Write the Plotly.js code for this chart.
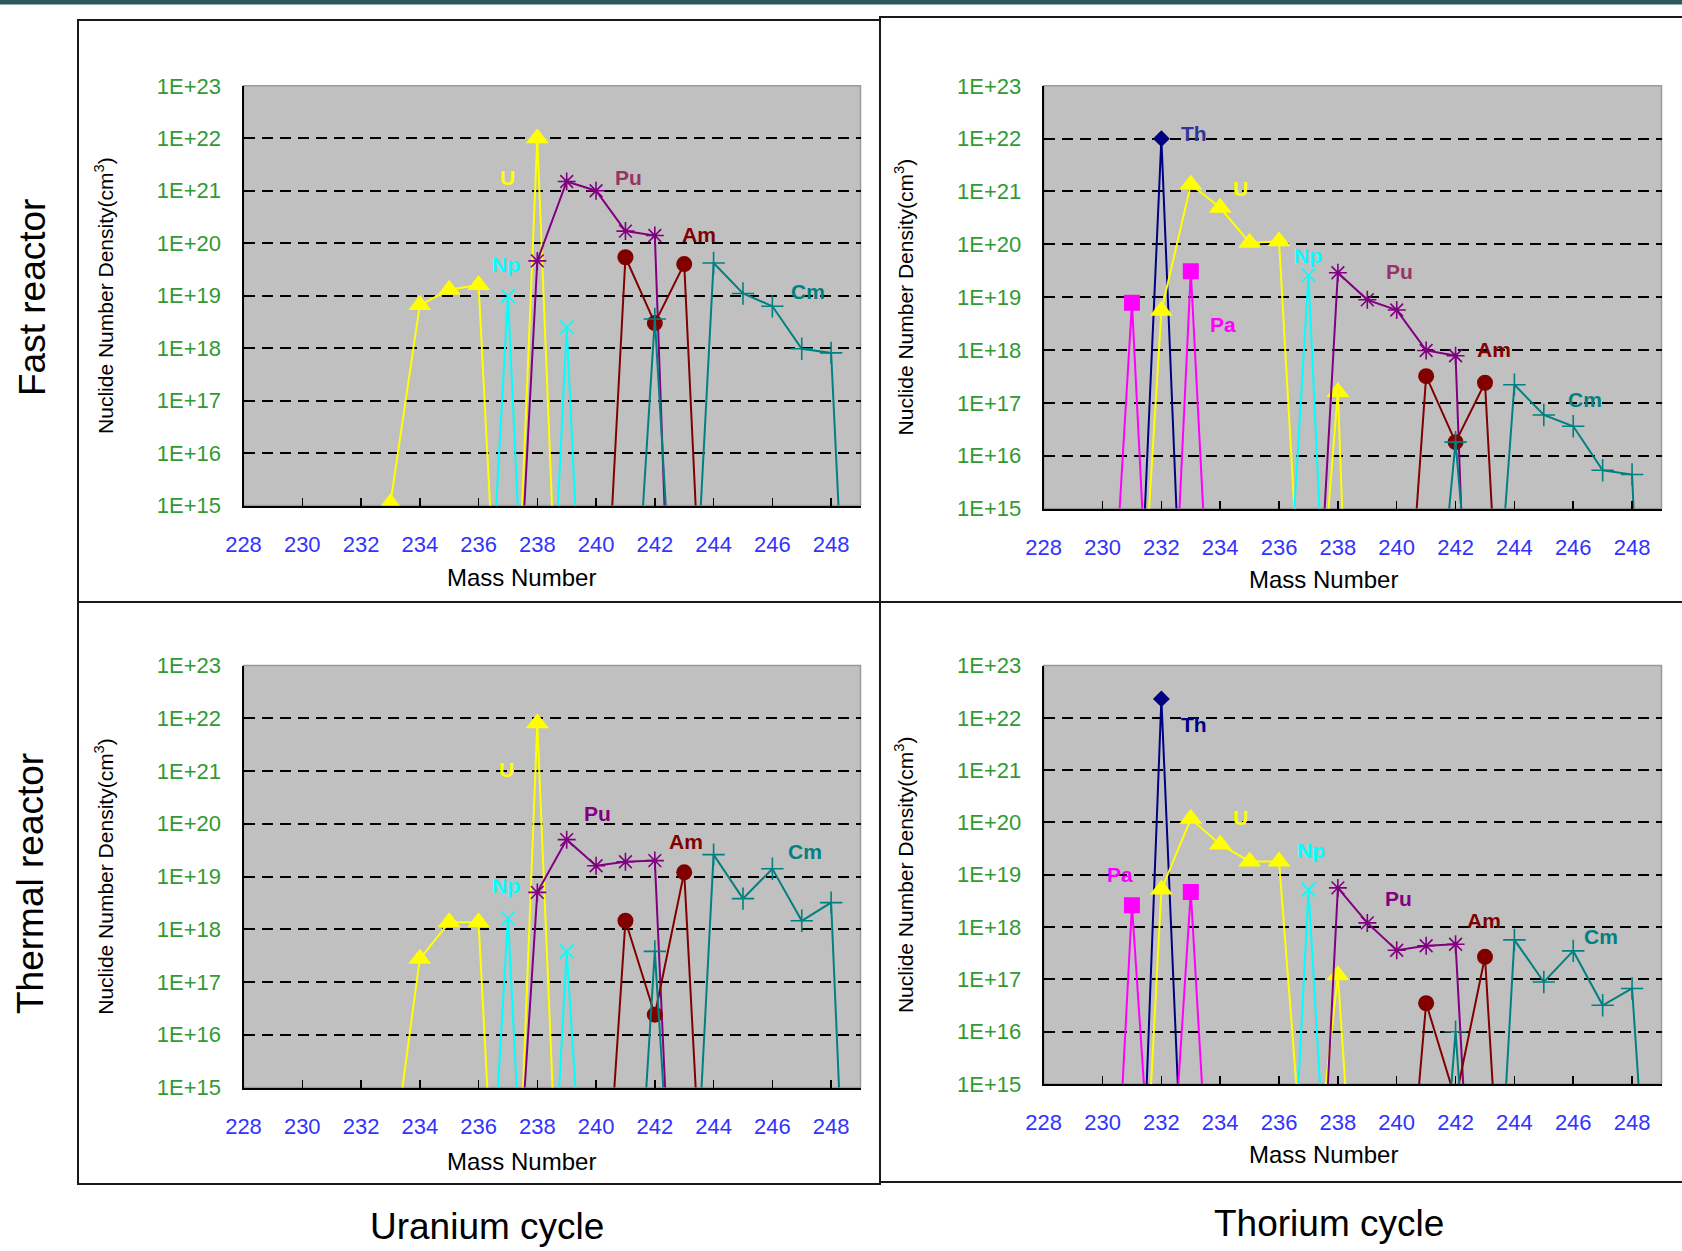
<!DOCTYPE html>
<html><head><meta charset="utf-8">
<script src="https://cdn.plot.ly/plotly-3.0.1.min.js"></script>
<style>html,body{margin:0;padding:0;background:#fff;} #chart{width:1682px;height:1251px;}</style>
</head><body><div id="chart"></div>
<script>
// ---------- axis ticks ----------
const massTicks = [228,230,232,234,236,238,240,242,244,246,248];
const densTickVals = [1e15,1e16,1e17,1e18,1e19,1e20,1e21,1e22,1e23];
const densTickText = ['1E+15','1E+16','1E+17','1E+18','1E+19','1E+20','1E+21','1E+22','1E+23'];

// ---------- Fast reactor, Uranium cycle ----------
const fuU_mass  = [233,234,235,236,237,238,239];
const fuU_dens  = [1.1e15,6.6e18,1.3e19,1.6e19,3e8,1.0e22,1e8];
const fuNp_mass = [236,237,238,239,240];
const fuNp_dens = [1e9,9.8e18,1e7,2.5e18,5e6];
const fuPu_mass = [237,238,239,240,241,242,243];
const fuPu_dens = [1.2e9,4.6e19,1.5e21,1.0e21,1.7e20,1.4e20,3e4];
const fuAm_mass = [240,241,242,243,244];
const fuAm_dens = [1.6e9,5.4e19,3.0e18,4.0e19,6e7];
const fuCm_mass = [241,242,243,244,245,246,247,248,249];
const fuCm_dens = [5e9,3.6e18,1e9,4.2e19,1.1e19,6.3e18,9.7e17,8.1e17,2e6];

// ---------- Fast reactor, Thorium cycle ----------
const ftTh_mass = [231,232,233];
const ftTh_dens = [3e9,1.0e22,2e8];
const ftPa_mass = [230,231,232,233,234];
const ftPa_dens = [4e9,7.8e18,6e7,3.1e19,6e8];
const ftU_mass  = [231,232,233,234,235,236,237,238,239];
const ftU_dens  = [6e9,5.5e18,1.35e21,4.9e20,1.07e20,1.14e20,2e10,1.6e17,1e2];
const ftNp_mass = [236,237,238];
const ftNp_dens = [1.6e10,2.6e19,3e7];
const ftPu_mass = [237,238,239,240,241,242,243];
const ftPu_dens = [3.5e9,2.9e19,8.9e18,5.7e18,9.8e17,7.8e17,5e2];
const ftAm_mass = [240,241,242,243,244];
const ftAm_dens = [5e9,3.2e17,1.8e16,2.4e17,1.2e7];
const ftCm_mass = [241,242,243,244,245,246,247,248,249];
const ftCm_dens = [3e10,1.8e16,6e9,2.2e17,5.9e16,3.6e16,5.3e15,4.4e15,6e2];

// ---------- Thermal reactor, Uranium cycle ----------
const tuU_mass  = [233,234,235,236,237,238,239];
const tuU_dens  = [2e13,2.75e17,1.35e18,1.35e18,4.5e7,8e21,4e8];
const tuNp_mass = [236,237,238,239,240];
const tuNp_dens = [6e8,1.6e18,3e7,3.8e17,8e8];
const tuPu_mass = [237,238,239,240,241,242,243];
const tuPu_dens = [1.2e10,5e18,5e19,1.6e19,1.9e19,2e19,1e7];
const tuAm_mass = [240,241,242,243,244];
const tuAm_dens = [6e9,1.45e18,2.4e16,1.2e19,4e8];
const tuCm_mass = [241,242,243,244,245,246,247,248,249];
const tuCm_dens = [5e8,3.8e17,4.5e8,2.6e19,3.8e18,1.4e19,1.45e18,3.2e18,3e5];

// ---------- Thermal reactor, Thorium cycle ----------
const ttTh_mass = [231,232,233];
const ttTh_dens = [4e7,2.3e22,1.5e9];
const ttPa_mass = [230,231,232,233,234];
const ttPa_dens = [5e7,2.6e18,1e10,4.7e18,1e9];
const ttU_mass  = [231,232,233,234,235,236,237,238,239];
const ttU_dens  = [1.2e8,5.2e18,1.17e20,3.8e19,1.8e19,1.8e19,1e12,1.2e17,6e8];
const ttNp_mass = [236,237,238];
const ttNp_dens = [6e7,5.2e18,1.6e9];
const ttPu_mass = [237,238,239,240,241,242,243];
const ttPu_dens = [5e7,5.6e18,1.2e18,3.6e17,4.4e17,4.7e17,2.5e7];
const ttAm_mass = [240,241,242,243,244];
const ttAm_dens = [1.2e10,3.5e16,5e14,2.7e17,1.2e8];
const ttCm_mass = [241,242,243,244,245,246,247,248,249];
const ttCm_dens = [8e8,1e16,8e7,5.7e17,8.9e16,3.5e17,3.2e16,6.7e16,3e8];

// ---------- styles ----------
const FONT = 'Liberation Sans, Arial, sans-serif';
const style = {
  Th: {color:'#000080', symbol:'diamond', size:13},
  Pa: {color:'#ff00ff', symbol:'square', size:16},
  U:  {color:'#ffff00', symbol:'triangle-up', size:20},
  Np: {color:'#00ffff', symbol:'x-thin-open', size:14},
  Pu: {color:'#800080', symbol:'asterisk-open', size:15},
  Am: {color:'#800000', symbol:'circle', size:16},
  Cm: {color:'#008080', symbol:'cross-thin-open', size:16}
};

const panels = [
  {xa:'x',  ya:'y',  series:[['U',fuU_mass,fuU_dens],['Np',fuNp_mass,fuNp_dens],['Pu',fuPu_mass,fuPu_dens],['Am',fuAm_mass,fuAm_dens],['Cm',fuCm_mass,fuCm_dens]]},
  {xa:'x2', ya:'y2', series:[['Th',ftTh_mass,ftTh_dens],['Pa',ftPa_mass,ftPa_dens],['U',ftU_mass,ftU_dens],['Np',ftNp_mass,ftNp_dens],['Pu',ftPu_mass,ftPu_dens],['Am',ftAm_mass,ftAm_dens],['Cm',ftCm_mass,ftCm_dens]]},
  {xa:'x3', ya:'y3', series:[['U',tuU_mass,tuU_dens],['Np',tuNp_mass,tuNp_dens],['Pu',tuPu_mass,tuPu_dens],['Am',tuAm_mass,tuAm_dens],['Cm',tuCm_mass,tuCm_dens]]},
  {xa:'x4', ya:'y4', series:[['Th',ttTh_mass,ttTh_dens],['Pa',ttPa_mass,ttPa_dens],['U',ttU_mass,ttU_dens],['Np',ttNp_mass,ttNp_dens],['Pu',ttPu_mass,ttPu_dens],['Am',ttAm_mass,ttAm_dens],['Cm',ttCm_mass,ttCm_dens]]}
];

const traces = [];
panels.forEach(p => {
  p.series.forEach(([name, xs, ys]) => {
    const s = style[name];
    const open = s.symbol.indexOf('open') >= 0;
    traces.push({
      type:'scatter', mode:'lines+markers', name:name,
      x:xs, y:ys, xaxis:p.xa, yaxis:p.ya,
      line:{color:s.color, width:2},
      marker:{symbol:s.symbol, size:s.size, color:s.color,
              line:{color:s.color, width: open ? 1.6 : 0}},
      hoverinfo:'x+y+name'
    });
  });
});

// series labels (position in axis units: mass number, log10 density)
const labels = [
  ['x','y','U',237.0,21.26,'#ffff00'],['x','y','Pu',241.1,21.26,'#993366'],['x','y','Am',243.5,20.17,'#800000'],
  ['x','y','Np',236.95,19.6,'#00ffff'],['x','y','Cm',247.2,19.07,'#008080'],
  ['x2','y2','Th',233.1,22.09,'#333399'],['x2','y2','U',234.7,21.05,'#ffff00'],['x2','y2','Np',237.0,19.79,'#00ffff'],
  ['x2','y2','Pu',240.1,19.48,'#993366'],['x2','y2','Pa',234.1,18.48,'#ff00ff'],['x2','y2','Am',243.3,18.01,'#800000'],['x2','y2','Cm',246.4,17.06,'#008080'],
  ['x3','y3','U',236.95,21.03,'#ffff00'],['x3','y3','Pu',240.05,20.19,'#800080'],['x3','y3','Am',243.07,19.66,'#800000'],
  ['x3','y3','Cm',247.1,19.48,'#008080'],['x3','y3','Np',236.95,18.83,'#00ffff'],
  ['x4','y4','Th',233.1,21.87,'#000080'],['x4','y4','U',234.7,20.09,'#ffff00'],['x4','y4','Pa',230.6,19.01,'#ff00ff'],
  ['x4','y4','Np',237.1,19.46,'#00ffff'],['x4','y4','Pu',240.05,18.54,'#800080'],['x4','y4','Am',242.96,18.13,'#800000'],['x4','y4','Cm',246.94,17.82,'#008080']
];

const W = 1682, H = 1251;
const px = v => v / W;
const py = v => 1 - v / H;

const annotations = labels.map(([xr, yr, t, x, y, c]) => ({
  xref:xr, yref:yr, x:x, y:y, text:'<b>'+t+'</b>', showarrow:false,
  xanchor:'center', yanchor:'middle', font:{family:FONT, size:21, color:c}
}));
// x-axis titles (placed as in the reference, slightly left of the axis centre)
const xTitles = [[521,577],[1323,579],[521,1161],[1323,1154]];
xTitles.forEach(([x,y]) => annotations.push({xref:'paper', yref:'paper', x:px(x), y:py(y), text:'Mass Number',
  showarrow:false, xanchor:'center', yanchor:'middle', font:{family:FONT, size:24, color:'#000'}}));
annotations.push(
  {xref:'paper', yref:'paper', x:px(32), y:py(298), text:'Fast reactor', textangle:-90, showarrow:false,
   xanchor:'center', yanchor:'middle', font:{family:FONT, size:37, color:'#000'}},
  {xref:'paper', yref:'paper', x:px(30), y:py(884), text:'Thermal reactor', textangle:-90, showarrow:false,
   xanchor:'center', yanchor:'middle', font:{family:FONT, size:37, color:'#000'}},
  {xref:'paper', yref:'paper', x:px(487), y:py(1226), text:'Uranium cycle', showarrow:false,
   xanchor:'center', yanchor:'middle', font:{family:FONT, size:37, color:'#000'}},
  {xref:'paper', yref:'paper', x:px(1329), y:py(1223), text:'Thorium cycle', showarrow:false,
   xanchor:'center', yanchor:'middle', font:{family:FONT, size:37, color:'#000'}}
);

const frame = (x0,y0,x1,y1) => ({type:'rect', xref:'paper', yref:'paper', x0:px(x0), x1:px(x1), y0:py(y1), y1:py(y0),
  line:{color:'#1a1a1a', width:2}, fillcolor:'rgba(0,0,0,0)', layer:'above'});
const shapes = [
  {type:'rect', xref:'paper', yref:'paper', x0:0, x1:1, y0:py(4.5), y1:1, fillcolor:'#2a5a5a', line:{width:0}},
  frame(78,20,880,602), frame(880,17,1700,602), frame(78,602,880,1184), frame(880,602,1700,1182)
];
['x','x2','x3','x4'].forEach((xa,i) => {
  const ya = ['y','y2','y3','y4'][i];
  shapes.push({type:'rect', xref:xa+' domain', yref:ya+' domain', x0:0, x1:1, y0:0, y1:1,
    line:{color:'#9a9a9a', width:1.5}, fillcolor:'rgba(0,0,0,0)', layer:'below'});
});

function xAxis(domain, anchor) {
  return {domain:domain, anchor:anchor, range:[228,249], tickmode:'array', tickvals:massTicks,
    ticks:'inside', ticklen:8, tickwidth:1.5, tickcolor:'#000',
    showline:true, linecolor:'#000', linewidth:2, showgrid:false, zeroline:false,
    tickfont:{family:FONT, size:22, color:'#3333ff'}, ticklabelstandoff:18};
}
function yAxis(domain, anchor) {
  return {domain:domain, anchor:anchor, type:'log', range:[15,23], tickmode:'array',
    tickvals:densTickVals, ticktext:densTickText,
    ticks:'inside', ticklen:7, tickwidth:1.5, tickcolor:'#000',
    showline:true, linecolor:'#000', linewidth:2, zeroline:false,
    showgrid:true, gridcolor:'#000', gridwidth:2, griddash:'11px,7px',
    tickfont:{family:FONT, size:22, color:'#339933'}, ticklabelstandoff:16,
    title:{text:'Nuclide Number Density(cm<sup>3</sup>)', font:{family:FONT, size:21, color:'#000'}, standoff:38}};
}

const layout = {
  width:W, height:H, margin:{l:0, r:0, t:0, b:0}, autosize:false,
  paper_bgcolor:'#ffffff', plot_bgcolor:'#c0c0c0', showlegend:false,
  xaxis:  xAxis([px(243.5), px(860.5)], 'y'),
  yaxis:  yAxis([py(505.5), py(85.8)], 'x'),
  xaxis2: xAxis([px(1043.7), px(1661.5)], 'y2'),
  yaxis2: yAxis([py(508.5), py(85.8)], 'x2'),
  xaxis3: xAxis([px(243.5), px(860.5)], 'y3'),
  yaxis3: yAxis([py(1087.5), py(665.5)], 'x3'),
  xaxis4: xAxis([px(1043.7), px(1661.5)], 'y4'),
  yaxis4: yAxis([py(1084), py(665.5)], 'x4'),
  annotations:annotations, shapes:shapes
};

Plotly.newPlot('chart', traces, layout, {displayModeBar:false, staticPlot:true});
</script></body></html>
